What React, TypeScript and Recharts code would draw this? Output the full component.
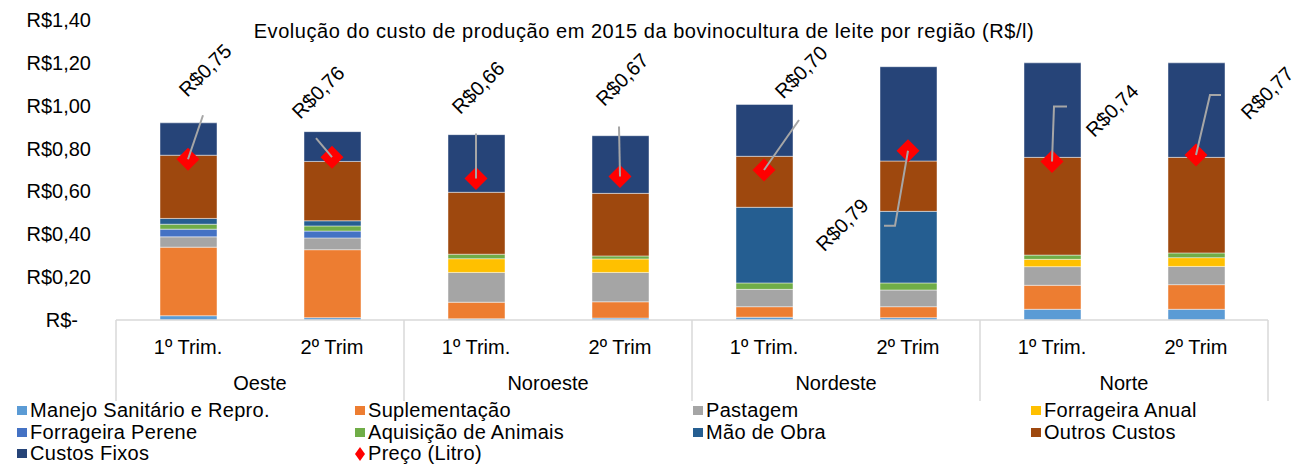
import React from "react";
import { ComposedChart, Bar, Line, XAxis, YAxis, Legend, LabelList, Customized } from "recharts";

const REGIONS = ["Oeste", "Noroeste", "Nordeste", "Norte"];
const TRIMS = ["1º Trim.", "2º Trim"];
const Y_TICKS = [0, 0.2, 0.4, 0.6, 0.8, 1.0, 1.2, 1.4];

// R$/l por componente, ordem: Oeste 1º, Oeste 2º, Noroeste 1º, ... Norte 2º
const manejo = [0.02, 0.011, 0.006, 0.009, 0.013, 0.011, 0.05, 0.05];
const suplementacao = [0.32, 0.317, 0.077, 0.076, 0.049, 0.051, 0.112, 0.115];
const pastagem = [0.048, 0.055, 0.139, 0.137, 0.081, 0.078, 0.087, 0.085];
const forrageiraAnual = [0, 0, 0.064, 0.063, 0, 0, 0.034, 0.041];
const forrageiraPerene = [0.036, 0.032, 0, 0, 0, 0, 0, 0];
const aquisicao = [0.023, 0.024, 0.021, 0.014, 0.03, 0.033, 0.02, 0.022];
const maoDeObra = [0.027, 0.024, 0, 0, 0.353, 0.334, 0, 0];
const outrosCustos = [0.295, 0.277, 0.289, 0.292, 0.238, 0.235, 0.456, 0.446];
const custosFixos = [0.151, 0.139, 0.269, 0.269, 0.242, 0.44, 0.441, 0.441];
const preco = [0.75, 0.76, 0.66, 0.67, 0.7, 0.79, 0.74, 0.77];

const SERIES = [
  { key: "manejo", name: "Manejo Sanitário e Repro.", color: "#5b9bd5", values: manejo },
  { key: "suplementacao", name: "Suplementação", color: "#ed7d31", values: suplementacao },
  { key: "pastagem", name: "Pastagem", color: "#a5a5a5", values: pastagem },
  { key: "forrageiraAnual", name: "Forrageira Anual", color: "#ffc000", values: forrageiraAnual },
  { key: "forrageiraPerene", name: "Forrageira Perene", color: "#4472c4", values: forrageiraPerene },
  { key: "aquisicao", name: "Aquisição de Animais", color: "#70ad47", values: aquisicao },
  { key: "maoDeObra", name: "Mão de Obra", color: "#255e91", values: maoDeObra },
  { key: "outrosCustos", name: "Outros Custos", color: "#9e480e", values: outrosCustos },
  { key: "custosFixos", name: "Custos Fixos", color: "#264478", values: custosFixos },
];

// label placement for the price labels (offset from the marker), and the leader lines
const LABEL_POS = [[17, -89], [-14, -65], [2, -91], [2, -97], [37, -98], [-66, 74], [60, -51], [71, -62]];
const LEADERS = [[15, -44, 0], [-16, -19, 0], [0, -45, 0], [-1, -50, 0], [35, -50, 0], [-13, 75, -11], [2, -55, 13], [14, -60, 11]];

const data = preco.map((p, i) => {
  const row: Record<string, any> = {
    trim: TRIMS[i % 2],
    region: REGIONS[Math.floor(i / 2)],
    regionPos: Math.floor(i / 2) + 0.5,
    preco: p,
  };
  SERIES.forEach((s) => (row[s.key] = s.values[i]));
  return row;
});

const FONT = "'Liberation Sans', Arial, sans-serif";
const W = 1301;
const H = 465;
const TRIM_AXIS_H = 36;
const REGION_AXIS_H = 109;

const fmt = (v: number) => "R$" + v.toFixed(2).replace(".", ",");

function YTick({ x, y, payload }: any) {
  const v = payload.value;
  return (
    <text x={v === 0 ? x - 13 : x} y={y} textAnchor="end" dominantBaseline="central" fontSize={20} fontFamily={FONT} fill="#000">
      {v === 0 ? "R$-" : fmt(v)}
    </text>
  );
}

function RegionTick({ x, y, payload }: any) {
  const v = payload.value;
  if (Number.isInteger(v)) {
    return <line x1={x} x2={x} y1={y - TRIM_AXIS_H} y2={y + 45} stroke="#d9d9d9" strokeWidth={1.5} />;
  }
  return (
    <text x={x} y={y + 27} textAnchor="middle" dominantBaseline="central" fontSize={20} fontFamily={FONT} fill="#000">
      {REGIONS[Math.floor(v)]}
    </text>
  );
}

function Diamond({ cx, cy }: any) {
  if (cx == null || cy == null) return null;
  const r = 11.5;
  return <path d={`M${cx},${cy - r}L${cx + r},${cy}L${cx},${cy + r}L${cx - r},${cy}Z`} fill="#ff0000" />;
}

function PriceLabel({ x, y, value, index }: any) {
  if (x == null || y == null) return null;
  const [ex, ey, hx] = LEADERS[index];
  const [lx, ly] = LABEL_POS[index];
  let pts = `${x},${y} ${x + ex},${y + ey}`;
  if (hx) pts += ` ${x + ex + hx},${y + ey}`;
  return (
    <g>
      <polyline points={pts} fill="none" stroke="#a6a6a6" strokeWidth={2} />
      <text
        transform={`translate(${x + lx},${y + ly}) rotate(-45)`}
        textAnchor="middle"
        dominantBaseline="central"
        fontSize={20}
        fontFamily={FONT}
        fill="#000"
      >
        {fmt(value)}
      </text>
    </g>
  );
}

function Title() {
  return (
    <text x={644} y={31} textAnchor="middle" dominantBaseline="central" fontSize={20} letterSpacing={0.55} fontFamily={FONT} fill="#000">
      Evolução do custo de produção em 2015 da bovinocultura de leite por região (R$/l)
    </text>
  );
}

function LegendGrid() {
  const items = [
    ...SERIES.map((s) => ({ name: s.name, color: s.color, diamond: false })),
    { name: "Preço (Litro)", color: "#ff0000", diamond: true },
  ];
  return (
    <div style={{ position: "relative", width: W, height: 65, fontFamily: FONT, fontSize: 20, letterSpacing: 0.3, color: "#000" }}>
      {items.map((it, i) => (
        <div
          key={it.name}
          style={{
            position: "absolute",
            left: 17 + (i % 4) * 338,
            top: Math.floor(i / 4) * 21.5,
            height: 21.5,
            display: "flex",
            alignItems: "center",
            whiteSpace: "nowrap",
          }}
        >
          {it.diamond ? (
            <svg width={10} height={14} style={{ marginRight: 3 }}>
              <path d="M5,0L10,7L5,14L0,7Z" fill={it.color} />
            </svg>
          ) : (
            <span style={{ display: "inline-block", width: 10, height: 9, background: it.color, marginRight: 3 }} />
          )}
          {it.name}
        </div>
      ))}
    </div>
  );
}

export default function App() {
  return (
    <div style={{ position: "absolute", left: 0, top: 0, width: W, height: H, background: "#fff" }}>
      <ComposedChart width={W} height={H} data={data} margin={{ top: 20, right: 33, bottom: 0, left: 0 }}>
        <XAxis
          xAxisId={0}
          dataKey="trim"
          height={TRIM_AXIS_H}
          axisLine={{ stroke: "#d9d9d9", strokeWidth: 1.5 }}
          tickLine={false}
          tickSize={0}
          tickMargin={20}
          interval={0}
          tick={{ fontSize: 20, fill: "#000", fontFamily: FONT }}
        />
        <XAxis
          xAxisId={1}
          dataKey="regionPos"
          type="number"
          domain={[0, 4]}
          ticks={[0, 0.5, 1, 1.5, 2, 2.5, 3, 3.5, 4]}
          interval={0}
          height={REGION_AXIS_H}
          axisLine={false}
          tickLine={false}
          tickSize={0}
          tickMargin={0}
          tick={<RegionTick />}
        />
        <YAxis
          width={116}
          domain={[0, 1.4]}
          ticks={Y_TICKS}
          axisLine={false}
          tickLine={false}
          tickSize={0}
          tickMargin={25}
          tick={<YTick />}
        />
        {SERIES.map((s) => (
          <Bar
            key={s.key}
            xAxisId={0}
            dataKey={s.key}
            name={s.name}
            stackId="custo"
            fill={s.color}
            stroke="rgba(255,255,255,0.45)"
            strokeWidth={1}
            barSize={57}
            isAnimationActive={false}
          />
        ))}
        <Line
          xAxisId={0}
          dataKey="preco"
          name="Preço (Litro)"
          stroke="none"
          dot={<Diamond />}
          activeDot={false}
          isAnimationActive={false}
        >
          <LabelList dataKey="preco" content={<PriceLabel />} />
        </Line>
        <Customized component={<Title />} />
        <Legend
          layout="horizontal"
          verticalAlign="middle"
          align="center"
          wrapperStyle={{ top: 400, left: 0, width: W, height: 65 }}
          content={() => <LegendGrid />}
        />
      </ComposedChart>
    </div>
  );
}
